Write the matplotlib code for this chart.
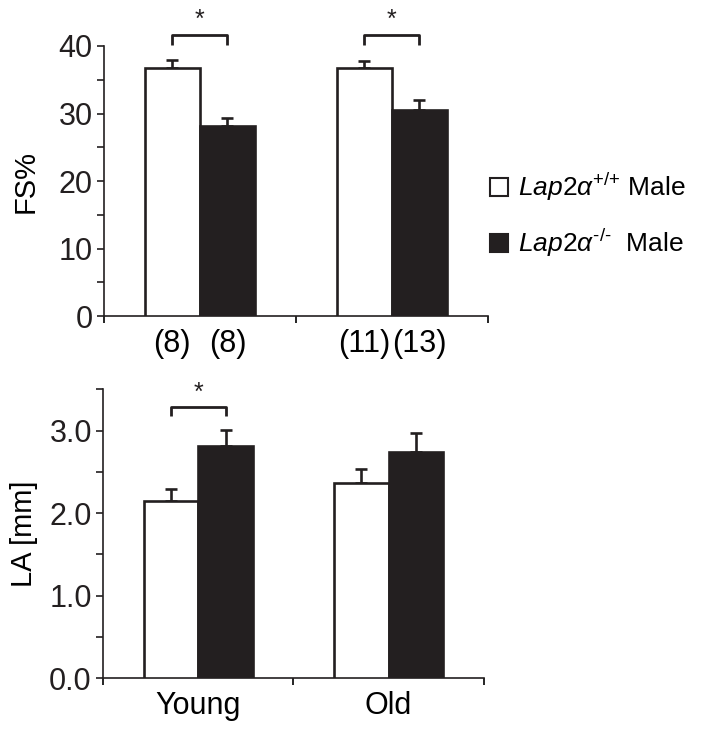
import matplotlib
matplotlib.use("Agg")
import matplotlib.pyplot as plt
from matplotlib.patches import Patch

plt.rcParams["font.family"] = ["Liberation Sans", "DejaVu Sans"]
plt.rcParams["mathtext.fontset"] = "custom"
plt.rcParams["mathtext.rm"] = "Liberation Sans"
plt.rcParams["mathtext.it"] = "Liberation Sans:italic"

# data
groups = ["Young", "Old"]
fs_wt = [36.8, 36.8]
fs_wt_err = [1.1, 1.0]
fs_ko = [28.1, 30.5]
fs_ko_err = [1.3, 1.5]
fs_n_labels = ["(8)", "(8)", "(11)", "(13)"]

la_wt = [2.15, 2.37]
la_wt_err = [0.14, 0.16]
la_ko = [2.81, 2.74]
la_ko_err = [0.20, 0.23]

legend_labels = [r"$\mathit{Lap2α}^{\text{+/+}}$ Male", r"$\mathit{Lap2α}^{\text{-/-}}$  Male"]

DARK = "#231f20"
centers = [0.5, 1.5]
width = 0.287


def draw_panel(ax, wt, wt_err, ko, ko_err, ylim, major, minor):
    x_wt = [c - width / 2 for c in centers]
    x_ko = [c + width / 2 for c in centers]
    ax.bar(x_wt, wt, width, color="white", edgecolor=DARK, linewidth=1.9, zorder=3)
    ax.bar(x_ko, ko, width, color=DARK, edgecolor=DARK, linewidth=1.9, zorder=3)
    for xs, vals, errs in [(x_wt, wt, wt_err), (x_ko, ko, ko_err)]:
        ax.errorbar(xs, vals, yerr=[[0] * len(errs), errs], fmt="none",
                    ecolor=DARK, elinewidth=1.9, capsize=4.5, capthick=1.9, zorder=2)
    ax.set_xlim(0, 2)
    ax.set_ylim(*ylim)
    ax.set_yticks(major)
    ax.set_yticks(minor, minor=True)
    ax.set_xticks([0, 1, 2])
    ax.set_xticklabels([])
    for side in ["top", "right"]:
        ax.spines[side].set_visible(False)
    for side in ["left", "bottom"]:
        ax.spines[side].set_linewidth(1.2)
        ax.spines[side].set_color(DARK)
    ax.tick_params(axis="y", which="both", direction="out", length=5, width=1.2,
                   labelsize=22, pad=3, colors=DARK)
    ax.tick_params(axis="x", which="major", direction="out", length=5, width=1.2)
    return x_wt, x_ko


def bracket(ax, x0, x1, y, leg, star_y):
    ax.plot([x0, x0, x1, x1], [y - leg, y, y, y - leg], color=DARK, lw=2,
            clip_on=False, solid_capstyle="butt")
    ax.text((x0 + x1) / 2, star_y, "*", ha="center", va="center", fontsize=18, color=DARK)


fig = plt.figure(figsize=(7.02, 7.30), dpi=100)
ax1 = fig.add_axes([0.148, 0.567, 0.547, 0.370])
ax2 = fig.add_axes([0.1467, 0.0708, 0.5425, 0.396])

x_wt, x_ko = draw_panel(ax1, fs_wt, fs_wt_err, fs_ko, fs_ko_err, (0, 40),
                        [0, 10, 20, 30, 40], [5, 15, 25, 35])
ax1.set_ylabel("FS%", fontsize=21, labelpad=14)
bar_centers = [x_wt[0], x_ko[0], x_wt[1], x_ko[1]]
ax1.set_xticks(bar_centers, minor=True)
ax1.set_xticklabels(fs_n_labels, minor=True)
ax1.tick_params(axis="x", which="minor", length=0, labelsize=22, pad=9)
for i in range(2):
    bracket(ax1, x_wt[i], x_ko[i], 41.6, 1.5, 43.9)

x_wt2, x_ko2 = draw_panel(ax2, la_wt, la_wt_err, la_ko, la_ko_err, (0, 3.5),
                          [0, 1, 2, 3], [0.5, 1.5, 2.5, 3.5])
ax2.set_yticklabels(["0.0", "1.0", "2.0", "3.0"])
ax2.set_ylabel("LA [mm]", fontsize=21, labelpad=8)
ax2.set_xticks(centers, minor=True)
ax2.set_xticklabels(groups, minor=True)
ax2.tick_params(axis="x", which="minor", length=0, labelsize=22, pad=9)
bracket(ax2, x_wt2[0], x_ko2[0], 3.29, 0.11, 3.46)

handles = [Patch(facecolor="white", edgecolor=DARK, linewidth=1.5),
           Patch(facecolor=DARK, edgecolor=DARK, linewidth=1.5)]
fig.legend(handles, legend_labels, loc="center left", bbox_to_anchor=(0.664, 0.705),
           frameon=False, fontsize=19, handlelength=0.7, handleheight=0.7,
           handletextpad=0.35, labelspacing=0.9)

fig.savefig("out.png", dpi=100)
